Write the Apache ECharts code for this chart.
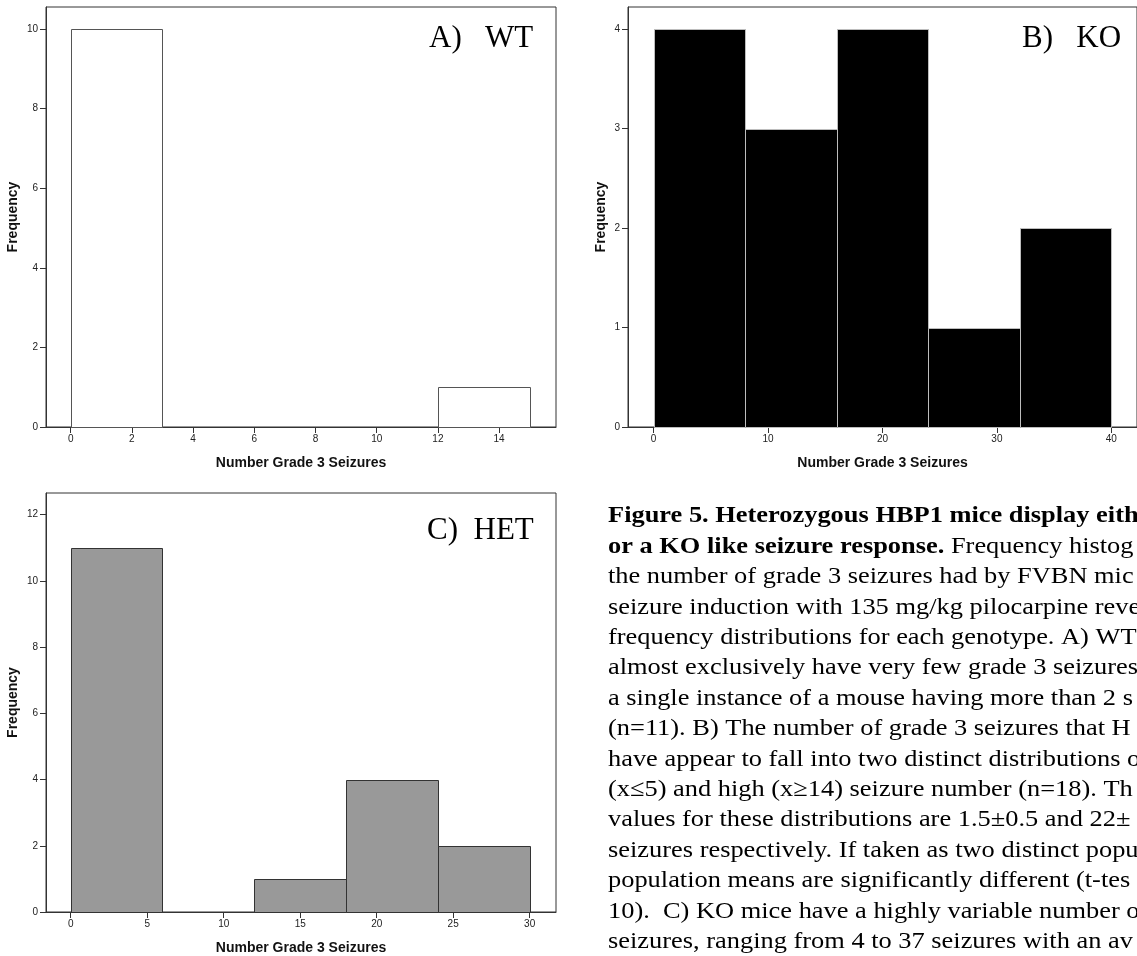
<!DOCTYPE html>
<html><head><meta charset="utf-8">
<script src="https://cdn.jsdelivr.net/npm/echarts@6/dist/echarts.min.js"></script>
<style>html,body{margin:0;padding:0;background:#fff}#c{width:1137px;height:956px}</style>
</head><body><div id="c"></div>
<script>
// ---- data ----
const wtBinEdges = [0, 3, 6, 9, 12, 15];
const wtCounts = [10, 0, 0, 0, 1];
const koBinEdges = [0, 8, 16, 24, 32, 40];
const koCounts = [4, 3, 4, 1, 2];
const hetBinEdges = [0, 6, 12, 18, 24, 30];
const hetCounts = [11, 0, 1, 4, 2];
const wtXTicks = [0, 2, 4, 6, 8, 10, 12, 14];
const wtYTicks = [0, 2, 4, 6, 8, 10];
const koXTicks = [0, 10, 20, 30, 40];
const koYTicks = [0, 1, 2, 3, 4];
const hetXTicks = [0, 5, 10, 15, 20, 25, 30];
const hetYTicks = [0, 2, 4, 6, 8, 10, 12];
const panelLabels = ['A)   WT', 'B)   KO', 'C)  HET'];
const xTitle = 'Number Grade 3 Seizures';
const yTitle = 'Frequency';
const captionBold1 = 'Figure 5. Heterozygous HBP1 mice display eith';
const captionBold2 = 'or a KO like seizure response.';
const captionRest2 = ' Frequency histog';
const captionLines = [
  'the number of grade 3 seizures had by FVBN mic',
  'seizure induction with 135 mg/kg pilocarpine reve',
  'frequency distributions for each genotype. A) WT',
  'almost exclusively have very few grade 3 seizures',
  'a single instance of a mouse having more than 2 s',
  '(n=11). B) The number of grade 3 seizures that H',
  'have appear to fall into two distinct distributions o',
  '(x\u22645) and high (x\u226514) seizure number (n=18). Th',
  'values for these distributions are 1.5\u00b10.5 and 22\u00b1',
  'seizures respectively. If taken as two distinct popu',
  'population means are significantly different (t-tes',
  '10).  C) KO mice have a highly variable number o',
  'seizures, ranging from 4 to 37 seizures with an av'
];

function bins(edges, counts) {
  return counts.map((c, i) => [edges[i], edges[i + 1], c]);
}

const SANS = 'Liberation Sans';
const SERIF = 'Liberation Serif';

function makeRender(fill, stroke) {
  return function (params, api) {
    const c = api.value(2);
    if (!c) return null;
    const p0 = api.coord([api.value(0), 0]);
    const p1 = api.coord([api.value(1), c]);
    const x0 = Math.round(p0[0]) + 0.5, x1 = Math.round(p1[0]) + 0.5;
    const y0 = Math.round(p0[1]) + 0.5, y1 = Math.round(p1[1]) + 0.5;
    return {
      type: 'rect',
      shape: { x: x0, y: y1, width: x1 - x0, height: y0 - y1 },
      style: { fill: fill, stroke: stroke, lineWidth: 1 }
    };
  };
}

function xAxisOf(gi, min, max, ticks) {
  return {
    gridIndex: gi, type: 'value', min: min, max: max,
    axisLine: { show: true, onZero: false, lineStyle: { color: '#333', width: 1 } },
    axisTick: { show: true, length: 6, customValues: ticks, lineStyle: { color: '#333' } },
    axisLabel: { customValues: ticks, fontSize: 10, color: '#222', margin: 7, fontFamily: SANS },
    splitLine: { show: false },
    name: xTitle, nameLocation: 'middle', nameGap: 29,
    nameTextStyle: { fontFamily: SANS, fontWeight: 'bold', fontSize: 14, color: '#111' }
  };
}
function yAxisOf(gi, min, max, ticks, gap) {
  return {
    gridIndex: gi, type: 'value', min: min, max: max,
    axisLine: { show: true, onZero: false, lineStyle: { color: '#333', width: 1 } },
    axisTick: { show: true, length: 6, customValues: ticks, lineStyle: { color: '#333' } },
    axisLabel: { customValues: ticks, fontSize: 10, color: '#222', margin: 8, fontFamily: SANS },
    splitLine: { show: false },
    name: yTitle, nameLocation: 'middle', nameGap: gap,
    nameTextStyle: { fontFamily: SANS, fontWeight: 'bold', fontSize: 14, color: '#111' }
  };
}

const gridStyle = { show: true, borderColor: '#333', borderWidth: 1, backgroundColor: 'transparent' };

let captionText = '{b|' + captionBold1 + '}\n{b|' + captionBold2 + '}{n|' + captionRest2 + '}';
captionLines.forEach(l => { captionText += '\n{n|' + l + '}'; });

const labelStyle = { fontFamily: SERIF, fontWeight: 'normal', fontSize: 31, color: '#000' };

const option = {
  animation: false,
  backgroundColor: '#fff',
  grid: [
    Object.assign({ left: 46, top: 7, width: 510, height: 420 }, gridStyle),
    Object.assign({ left: 628, top: 7, width: 515, height: 420 }, gridStyle),
    Object.assign({ left: 46, top: 493, width: 510, height: 420 }, gridStyle)
  ],
  xAxis: [
    xAxisOf(0, -0.807, 15.86, wtXTicks),
    xAxisOf(1, -2.237, 42.24, koXTicks),
    xAxisOf(2, -1.614, 31.72, hetXTicks)
  ],
  yAxis: [
    yAxisOf(0, 0, 10.553, wtYTicks, 26),
    yAxisOf(1, 0, 4.224, koYTicks, 20),
    yAxisOf(2, 0, 12.654, hetYTicks, 26)
  ],
  title: [
    { text: panelLabels[0], left: 424, top: 18, textStyle: labelStyle },
    { text: panelLabels[1], left: 1017, top: 18, textStyle: labelStyle },
    { text: panelLabels[2], left: 422, top: 510, textStyle: labelStyle }
  ],
  graphic: [
    {
      type: 'text', x: 608, y: 501, scaleX: 1.1, scaleY: 1, silent: true,
      style: {
        text: captionText,
        fontFamily: SERIF, fontSize: 24, lineHeight: 30.4, fill: '#000',
        rich: {
          b: { fontFamily: SERIF, fontSize: 24, fontWeight: 'bold', lineHeight: 30.4, fill: '#000' },
          n: { fontFamily: SERIF, fontSize: 24, fontWeight: 'normal', lineHeight: 30.4, fill: '#000' }
        }
      }
    }
  ],
  series: [
    { type: 'custom', xAxisIndex: 0, yAxisIndex: 0, data: bins(wtBinEdges, wtCounts), renderItem: makeRender('#ffffff', '#555'), clip: false },
    { type: 'custom', xAxisIndex: 1, yAxisIndex: 1, data: bins(koBinEdges, koCounts), renderItem: makeRender('#000000', '#bdbdbd'), clip: false },
    { type: 'custom', xAxisIndex: 2, yAxisIndex: 2, data: bins(hetBinEdges, hetCounts), renderItem: makeRender('#999999', '#333'), clip: false }
  ]
};

const chart = echarts.init(document.getElementById('c'), null, { renderer: 'canvas' });
chart.setOption(option);
</script>
</body></html>
